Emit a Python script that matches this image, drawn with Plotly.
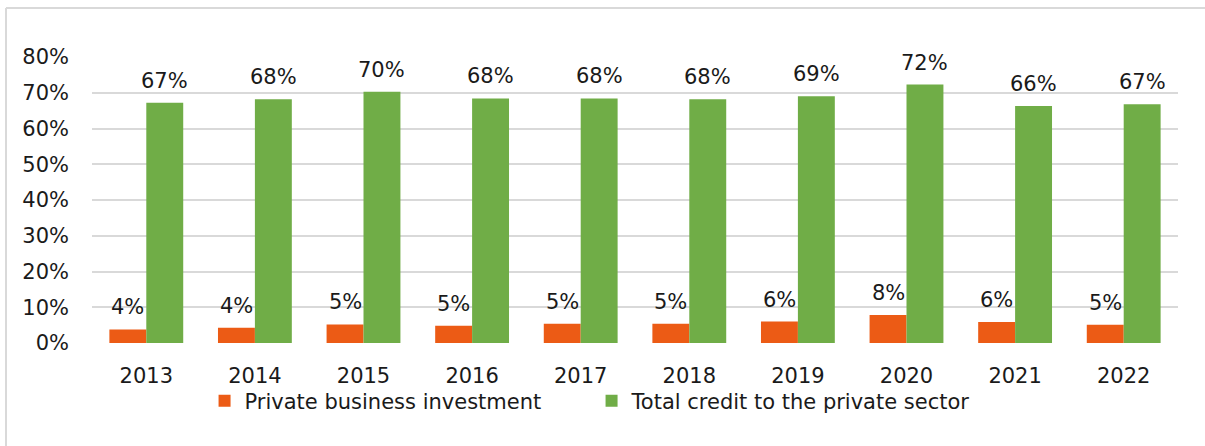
import plotly.graph_objects as go

years = ["2013", "2014", "2015", "2016", "2017", "2018", "2019", "2020", "2021", "2022"]
private_investment = [0.038, 0.043, 0.052, 0.048, 0.054, 0.054, 0.060, 0.078, 0.059, 0.051]
private_credit = [0.672, 0.682, 0.703, 0.684, 0.684, 0.682, 0.690, 0.723, 0.663, 0.668]

series_names = ["Private business investment", "Total credit to the private sector"]
series_colors = ["#EC5B15", "#70AD47"]
font_family = "DejaVu Sans"
text_color = "#1A1A1A"
fsize = 21

fig = go.Figure()
for name, vals, color in zip(series_names, [private_investment, private_credit], series_colors):
    fig.add_trace(go.Bar(x=years, y=vals, name=name, marker=dict(color=color, line=dict(width=0))))

# value labels above each bar
annotations = []
offsets = [-0.17, 0.17]
for off, vals in zip(offsets, [private_investment, private_credit]):
    for i, v in enumerate(vals):
        annotations.append(dict(
            x=i + off, y=v, xref="x", yref="y", text=f"{round(v * 100):d}%",
            showarrow=False, yanchor="bottom", yshift=8,
            font=dict(family=font_family, size=fsize, color=text_color),
        ))

# outer frame (left and top edges)
x_left = (6 - 92) / 1086
y_top = 1 + (57 - 8) / 286
shapes = [
    dict(type="line", xref="paper", yref="paper", x0=x_left, x1=x_left, y0=y_top, y1=-0.5,
         line=dict(color="#D9D9D9", width=2)),
    dict(type="line", xref="paper", yref="paper", x0=x_left, x1=1.05, y0=y_top, y1=y_top,
         line=dict(color="#D9D9D9", width=2)),
]

fig.update_layout(
    width=1205, height=446,
    margin=dict(l=92, r=27, t=57, b=103),
    paper_bgcolor="white", plot_bgcolor="white",
    barmode="group", bargap=0.32, bargroupgap=0,
    font=dict(family=font_family, size=fsize, color=text_color),
    showlegend=True,
    legend=dict(orientation="h", x=0.46, xanchor="center", y=-0.203, yanchor="middle",
                bgcolor="rgba(0,0,0,0)",
                font=dict(family=font_family, size=fsize, color=text_color),
                itemsizing="constant", entrywidth=342, entrywidthmode="pixels",
                traceorder="normal"),
    annotations=annotations,
    shapes=shapes,
)
fig.update_xaxes(type="category", showgrid=False, showline=False, ticks="",
                 ticklabelstandoff=18, tickfont=dict(size=fsize))
fig.update_yaxes(range=[0, 0.8], dtick=0.1, tickformat=".0%", showgrid=True,
                 gridcolor="#D9D9D9", gridwidth=1.5, zeroline=False, showline=False,
                 ticks="", ticklabelstandoff=22, tickfont=dict(size=fsize))

fig.write_html("out.html")
